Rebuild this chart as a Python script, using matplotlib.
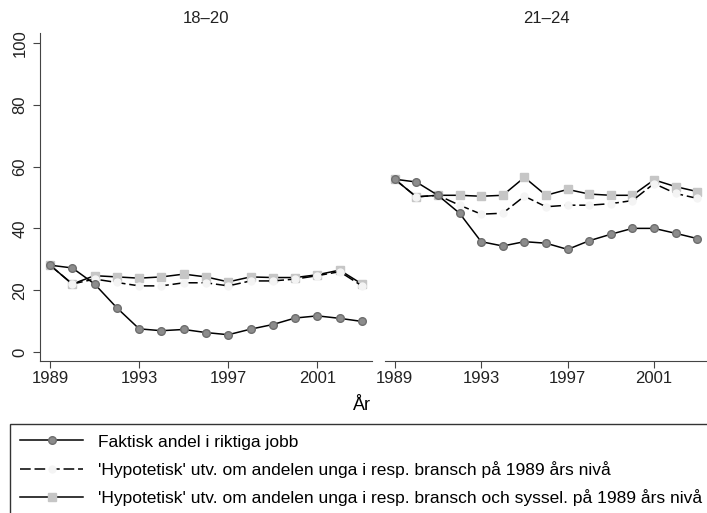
import matplotlib
matplotlib.use("Agg")
import matplotlib.pyplot as plt

years = list(range(1989, 2004))
panels = ["18–20", "21–24"]

faktisk_18 = [28.1, 27.2, 22.0, 14.3, 7.5, 6.9, 7.3, 6.3, 5.6, 7.4, 8.9, 11.0, 11.7, 10.9, 9.9]
hyp1_18 = [28.1, 22.0, 23.6, 22.5, 21.4, 21.4, 22.4, 22.4, 21.4, 23.0, 23.0, 23.6, 24.7, 26.0, 21.4]
hyp2_18 = [28.1, 22.0, 24.7, 24.3, 23.9, 24.3, 25.2, 24.3, 22.7, 24.3, 24.1, 24.1, 25.0, 26.5, 22.0]

faktisk_21 = [55.9, 55.0, 50.7, 44.9, 35.7, 34.3, 35.7, 35.2, 33.2, 36.0, 38.1, 40.0, 40.0, 38.4, 36.7]
hyp1_21 = [55.9, 50.2, 50.7, 47.5, 44.6, 44.9, 50.4, 47.0, 47.5, 47.5, 48.0, 49.0, 54.5, 51.3, 49.7]
hyp2_21 = [55.9, 50.2, 50.7, 50.7, 50.4, 50.7, 56.5, 50.7, 52.6, 51.1, 50.7, 50.7, 55.7, 53.5, 51.9]

labels = ["Faktisk andel i riktiga jobb",
          "'Hypotetisk' utv. om andelen unga i resp. bransch på 1989 års nivå",
          "'Hypotetisk' utv. om andelen unga i resp. bransch och syssel. på 1989 års nivå"]

xticks = [1989, 1993, 1997, 2001]
yticks = [0, 20, 40, 60, 80, 100]

plt.rcParams['font.family'] = ['Liberation Sans Narrow', 'Liberation Sans', 'DejaVu Sans']

W, H = 707, 513
fig = plt.figure(figsize=(W/100, H/100), dpi=100)

def ax_at(x0, x1, ytop, ybot):
    return fig.add_axes([x0/W, 1-ybot/H, (x1-x0)/W, (ybot-ytop)/H])

axL = ax_at(40, 372, 33, 361)
axR = ax_at(385, 707, 33, 361)

data = [(faktisk_18, hyp1_18, hyp2_18), (faktisk_21, hyp1_21, hyp2_21)]
handles = None
for ax, title, (f, h1, h2) in zip([axL, axR], panels, data):
    l3, = ax.plot(years, h2, color='black', lw=1.1, marker='s', ms=6,
                  mfc='#c6c6c6', mec='#c6c6c6', zorder=2)
    l2, = ax.plot(years, h1, color='black', lw=1.1, ls=(0, (7, 2.5)), marker='o', ms=5,
                  mfc='#f4f4f4', mec='#f4f4f4', zorder=3)
    l1, = ax.plot(years, f, color='black', lw=1.1, marker='o', ms=5.5,
                  mfc='#8c8c8c', mec='#6e6e6e', zorder=4)
    handles = [l1, l2, l3]
    ax.set_xlim(1988.55, 2003.45)
    ax.set_ylim(-2.9, 103.2)
    ax.set_xticks(xticks)
    ax.set_xticklabels([str(x) for x in xticks], fontsize=12, color='#222222')
    ax.set_yticks(yticks)
    ax.set_title(title, fontsize=12, pad=7, color='#222222')
    for s in ['top', 'right']:
        ax.spines[s].set_visible(False)
    ax.spines['bottom'].set_color('#444444')
    ax.spines['left'].set_color('#444444')
    ax.tick_params(direction='out', length=5, color='#444444', pad=2)

axL.set_yticklabels([str(y) for y in yticks], fontsize=12, rotation=90, va='center', color='#222222')
axL.tick_params(axis='y', pad=4)
axR.spines['left'].set_visible(False)
axR.tick_params(axis='y', left=False, labelleft=False)

fig.text(362/W, 1-405/H, "År", fontsize=13, ha='center', va='center')

leg = fig.legend(handles, labels, loc='upper left', bbox_to_anchor=(10/W, 1-424/H),
                 frameon=True, fancybox=False, edgecolor='black', fontsize=12.5,
                 handlelength=3.6, handletextpad=0.85, borderaxespad=0,
                 labelspacing=0.64, borderpad=0.6)
leg.get_frame().set_linewidth(1.0)

fig.savefig("out.png", dpi=100)
